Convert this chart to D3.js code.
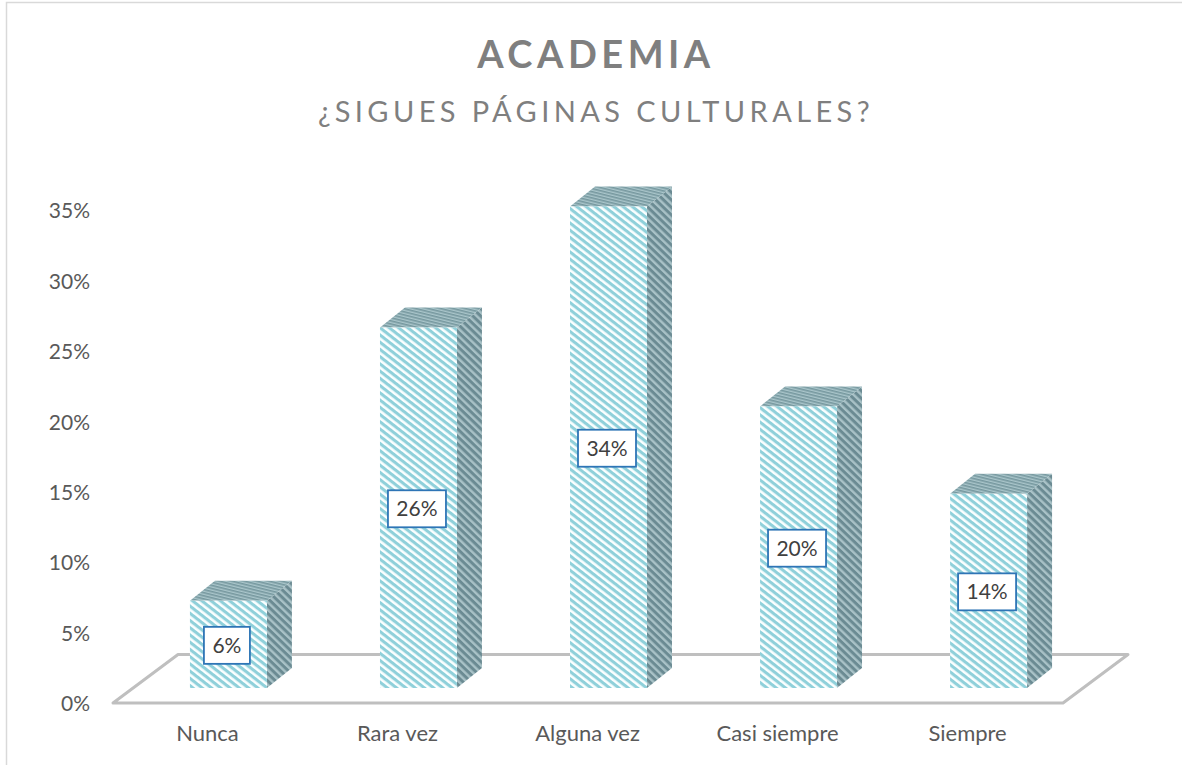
<!DOCTYPE html>
<html><head><meta charset="utf-8">
<script src="https://cdn.jsdelivr.net/npm/d3@7"></script>
<style>html,body{margin:0;padding:0;background:#fff}svg{display:block}</style>
</head><body><svg id="c" width="1182" height="765"></svg>
<script>
const categories = ["Nunca","Rara vez","Alguna vez","Casi siempre","Siempre"];
const values = [6.2,25.6,34.2,20,13.8];
const tickValues = [0,5,10,15,20,25,30,35];
const titleText = "ACADEMIA";
const subtitleText = "¿SIGUES PÁGINAS CULTURALES?";

const font = "Lato,'Open Sans',sans-serif";
const svg = d3.select("#c");
const floorY = 688, axisY = 703, unit = 14.08, dx = 25, dy = 20;

const y = d3.scaleLinear().domain([0,35]).range([floorY, floorY-35*unit]);
const yAxisScale = d3.scaleLinear().domain([0,35]).range([axisY, axisY-35*unit]);
const x = d3.scaleBand().domain(categories).range([133.5,1083.5]).paddingInner(0.595).paddingOuter(0.297);

const defs = svg.append("defs");
function pat(id, bg, fg, size, w, angle){
  const p = defs.append("pattern").attr("id",id).attr("patternUnits","userSpaceOnUse")
    .attr("width",size).attr("height",size).attr("patternTransform",`rotate(${angle})`);
  p.append("rect").attr("width",size).attr("height",size).attr("fill",bg);
  p.append("rect").attr("width",size).attr("height",w).attr("fill",fg);
}
pat("pf","#fbffff","#8fd0da",5.7,3.1,38);
pat("pt","#aac6cb","#76989f",3,1.6,14);
pat("ps","#a9c2c7","#6b8b93",5.4,3,44);

// frame
svg.append("path").attr("d","M6.5,765V2.5H1182").attr("fill","none").attr("stroke","#d9d9d9").attr("stroke-width",1.5);

// floor
svg.append("path")
  .attr("d",`M113,${axisY}L178,654.5H1128L1063,${axisY}Z`)
  .attr("fill","#fff").attr("stroke","#bfbfbf").attr("stroke-width",3).attr("stroke-linejoin","round");

// y axis
const ax = svg.append("g").attr("transform","translate(90,1)")
  .call(d3.axisLeft(yAxisScale).tickValues(tickValues).tickSize(0).tickPadding(0).tickFormat(d=>d+"%"));
ax.select(".domain").remove();
ax.selectAll("text").attr("font-family",font).attr("font-size",21).attr("fill","#595959");

// x axis
const xa = svg.append("g").attr("transform","translate(-21,725)")
  .call(d3.axisBottom(x).tickSize(0).tickPadding(0));
xa.select(".domain").remove();
xa.selectAll("text").attr("font-family",font).attr("font-size",22).attr("fill","#595959");

// bars
const g = svg.append("g").selectAll("g").data(categories).join("g");
const bw = x.bandwidth();
g.append("path").attr("fill","url(#ps)").attr("d",(d,i)=>{
  const r=x(d)+bw, t=y(values[i]);
  return `M${r},${t}l${dx},${-dy}V${floorY-dy}l${-dx},${dy}Z`;
});
g.append("path").attr("fill","url(#pt)").attr("d",(d,i)=>{
  const l=x(d), t=y(values[i]);
  return `M${l},${t}l${dx},${-dy}h${bw}l${-dx},${dy}Z`;
});
g.append("rect").attr("fill","url(#pf)").attr("x",d=>x(d)).attr("width",bw)
  .attr("y",(d,i)=>y(values[i])).attr("height",(d,i)=>floorY-y(values[i]));

// labels
const lab = svg.append("g").selectAll("g").data(categories).join("g")
  .attr("transform",(d,i)=>`translate(${x(d)+bw/2-1.5},${(y(values[i])+floorY)/2+1})`);
lab.append("rect").attr("x",(d,i)=>values[i]<9.5?-23:-29).attr("width",(d,i)=>values[i]<9.5?46:58)
  .attr("y",-18.5).attr("height",37).attr("fill","#fff").attr("stroke","#2e75b6").attr("stroke-width",1.8);
lab.append("text").attr("text-anchor","middle").attr("dy","0.36em").attr("font-family",font).attr("font-size",21).attr("fill","#404040")
  .text((d,i)=>Math.round(values[i])+"%");

// titles
svg.append("text").attr("x",596).attr("y",68).attr("text-anchor","middle").attr("font-family",font)
  .attr("font-size",38).attr("font-weight",700).attr("letter-spacing",4.5).attr("fill","#7f7f7f").text(titleText);
svg.append("text").attr("x",596).attr("y",122).attr("text-anchor","middle").attr("font-family",font)
  .attr("font-size",29).attr("letter-spacing",4.4).attr("fill","#7f7f7f").text(subtitleText);
</script></body></html>
